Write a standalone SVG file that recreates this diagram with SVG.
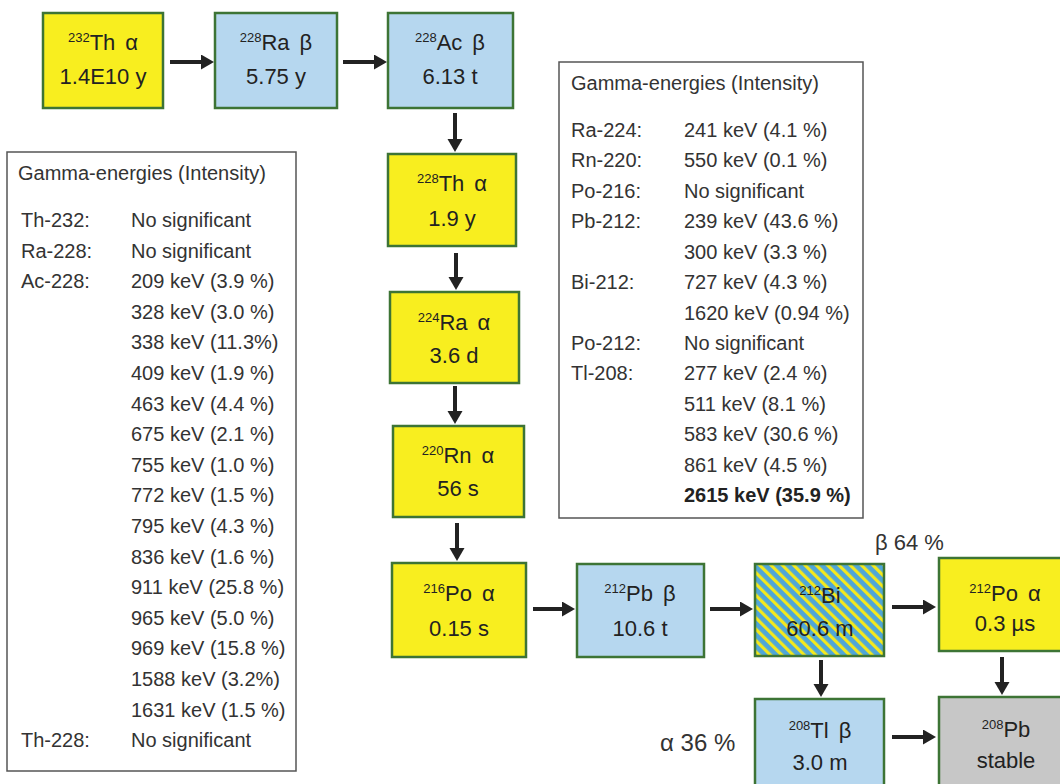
<svg xmlns="http://www.w3.org/2000/svg" width="1060" height="784" viewBox="0 0 1060 784">
<style>
.box{stroke:#3d7435;stroke-width:2.5}
.y{fill:#f8ee1f}
.b{fill:#b6d7ef}
.g{fill:#c7c7c7}
.nt{font-family:"Liberation Sans",Arial,sans-serif;font-size:22px;fill:#222;text-anchor:middle}
.sup{font-size:13px}
.tb{fill:#fff;stroke:#555;stroke-width:1.5}
.tt{font-family:"Liberation Sans",Arial,sans-serif;font-size:20px;fill:#333}
.bold{font-weight:bold;fill:#222}
.lbl{font-family:"Liberation Sans",Arial,sans-serif;fill:#333}
.arr{stroke:#222;stroke-width:4;fill:none;marker-end:url(#ah)}
</style>
<defs>
<marker id="ah" markerUnits="userSpaceOnUse" markerWidth="14" markerHeight="16" refX="4" refY="7.5" orient="auto">
<path d="M0,0 L13,7.5 L0,15 z" fill="#222"/>
</marker>
<pattern id="hatch" patternUnits="userSpaceOnUse" width="8" height="8" patternTransform="rotate(-45)">
<rect width="8" height="8" fill="#4fa6d8"/>
<rect width="3.2" height="8" fill="#f3e81e"/>
</pattern>
</defs>

<g id="table-left">
<rect class="tb" x="7" y="152" width="289" height="619"/>
<text class="tt" x="18" y="180">Gamma-energies (Intensity)</text>
<text class="tt" x="21" y="227">Th-232:</text><text class="tt" x="131" y="227">No significant</text>
<text class="tt" x="21" y="258">Ra-228:</text><text class="tt" x="131" y="258">No significant</text>
<text class="tt" x="21" y="288">Ac-228:</text><text class="tt" x="131" y="288">209 keV (3.9 %)</text>
<text class="tt" x="131" y="319">328 keV (3.0 %)</text>
<text class="tt" x="131" y="349">338 keV (11.3%)</text>
<text class="tt" x="131" y="380">409 keV (1.9 %)</text>
<text class="tt" x="131" y="411">463 keV (4.4 %)</text>
<text class="tt" x="131" y="441">675 keV (2.1 %)</text>
<text class="tt" x="131" y="472">755 keV (1.0 %)</text>
<text class="tt" x="131" y="502">772 keV (1.5 %)</text>
<text class="tt" x="131" y="533">795 keV (4.3 %)</text>
<text class="tt" x="131" y="564">836 keV (1.6 %)</text>
<text class="tt" x="131" y="594">911 keV (25.8 %)</text>
<text class="tt" x="131" y="625">965 keV (5.0 %)</text>
<text class="tt" x="131" y="655">969 keV (15.8 %)</text>
<text class="tt" x="131" y="686">1588 keV (3.2%)</text>
<text class="tt" x="131" y="717">1631 keV (1.5 %)</text>
<text class="tt" x="21" y="747">Th-228:</text><text class="tt" x="131" y="747">No significant</text>
</g>

<g id="table-right">
<rect class="tb" x="559" y="62" width="304" height="456"/>
<text class="tt" x="571" y="90">Gamma-energies (Intensity)</text>
<text class="tt" x="571" y="137">Ra-224:</text><text class="tt" x="684" y="137">241 keV (4.1 %)</text>
<text class="tt" x="571" y="167">Rn-220:</text><text class="tt" x="684" y="167">550 keV (0.1 %)</text>
<text class="tt" x="571" y="198">Po-216:</text><text class="tt" x="684" y="198">No significant</text>
<text class="tt" x="571" y="228">Pb-212:</text><text class="tt" x="684" y="228">239 keV (43.6 %)</text>
<text class="tt" x="684" y="259">300 keV (3.3 %)</text>
<text class="tt" x="571" y="289">Bi-212:</text><text class="tt" x="684" y="289">727 keV (4.3 %)</text>
<text class="tt" x="684" y="320">1620 keV (0.94 %)</text>
<text class="tt" x="571" y="350">Po-212:</text><text class="tt" x="684" y="350">No significant</text>
<text class="tt" x="571" y="380">Tl-208:</text><text class="tt" x="684" y="380">277 keV (2.4 %)</text>
<text class="tt" x="684" y="411">511 keV (8.1 %)</text>
<text class="tt" x="684" y="441">583 keV (30.6 %)</text>
<text class="tt" x="684" y="472">861 keV (4.5 %)</text>
<text class="tt bold" x="684" y="502">2615 keV (35.9 %)</text>
</g>

<g id="connectors">
<line class="arr" x1="170" y1="62" x2="205" y2="62"/>
<line class="arr" x1="343" y1="62" x2="378" y2="62"/>
<line class="arr" x1="455" y1="113" x2="455" y2="143"/>
<line class="arr" x1="456" y1="253" x2="456" y2="281"/>
<line class="arr" x1="455" y1="386" x2="455" y2="415"/>
<line class="arr" x1="457" y1="523" x2="457" y2="552"/>
<line class="arr" x1="533" y1="609" x2="566" y2="609"/>
<line class="arr" x1="710" y1="609" x2="744" y2="609"/>
<line class="arr" x1="892" y1="607" x2="927" y2="607"/>
<line class="arr" x1="821" y1="660" x2="821" y2="688"/>
<line class="arr" x1="1002" y1="657" x2="1002" y2="686"/>
<line class="arr" x1="892" y1="737" x2="927" y2="737"/>
</g>

<g id="n-th232">
<rect class="box y" x="43" y="13" width="120" height="95"/>
<text class="nt" x="103" y="50"><tspan class="sup" dy="-8">232</tspan><tspan dy="8">Th</tspan><tspan dx="10">α</tspan></text>
<text class="nt" x="103" y="84">1.4E10 y</text>
</g>
<g id="n-ra228">
<rect class="box b" x="215" y="13" width="122" height="95"/>
<text class="nt" x="276" y="50"><tspan class="sup" dy="-8">228</tspan><tspan dy="8">Ra</tspan><tspan dx="10">β</tspan></text>
<text class="nt" x="276" y="84">5.75 y</text>
</g>
<g id="n-ac228">
<rect class="box b" x="388" y="13" width="125" height="95"/>
<text class="nt" x="450" y="50"><tspan class="sup" dy="-8">228</tspan><tspan dy="8">Ac</tspan><tspan dx="10">β</tspan></text>
<text class="nt" x="450" y="84">6.13 t</text>
</g>
<g id="n-th228">
<rect class="box y" x="388" y="154" width="128" height="92"/>
<text class="nt" x="452" y="191"><tspan class="sup" dy="-8">228</tspan><tspan dy="8">Th</tspan><tspan dx="10">α</tspan></text>
<text class="nt" x="452" y="226">1.9 y</text>
</g>
<g id="n-ra224">
<rect class="box y" x="390" y="292" width="129" height="91"/>
<text class="nt" x="454" y="330"><tspan class="sup" dy="-8">224</tspan><tspan dy="8">Ra</tspan><tspan dx="10">α</tspan></text>
<text class="nt" x="454" y="363">3.6 d</text>
</g>
<g id="n-rn220">
<rect class="box y" x="393" y="426" width="131" height="91"/>
<text class="nt" x="458" y="463"><tspan class="sup" dy="-8">220</tspan><tspan dy="8">Rn</tspan><tspan dx="10">α</tspan></text>
<text class="nt" x="458" y="496">56 s</text>
</g>
<g id="n-po216">
<rect class="box y" x="392" y="563" width="134" height="94"/>
<text class="nt" x="459" y="601"><tspan class="sup" dy="-8">216</tspan><tspan dy="8">Po</tspan><tspan dx="10">α</tspan></text>
<text class="nt" x="459" y="636">0.15 s</text>
</g>
<g id="n-pb212">
<rect class="box b" x="577" y="564" width="127" height="93"/>
<text class="nt" x="640" y="601"><tspan class="sup" dy="-8">212</tspan><tspan dy="8">Pb</tspan><tspan dx="10">β</tspan></text>
<text class="nt" x="640" y="636">10.6 t</text>
</g>
<g id="n-bi212">
<rect class="box" x="755" y="564" width="129" height="92" fill="url(#hatch)"/>
<text class="nt" x="820" y="603"><tspan class="sup" dy="-8">212</tspan><tspan dy="8">Bi</tspan></text>
<text class="nt" x="820" y="636">60.6 m</text>
</g>
<g id="n-po212">
<rect class="box y" x="939" y="558" width="132" height="93"/>
<text class="nt" x="1005" y="601"><tspan class="sup" dy="-8">212</tspan><tspan dy="8">Po</tspan><tspan dx="10">α</tspan></text>
<text class="nt" x="1005" y="631">0.3 µs</text>
</g>
<g id="n-tl208">
<rect class="box b" x="755" y="699" width="129" height="95"/>
<text class="nt" x="820" y="738"><tspan class="sup" dy="-8">208</tspan><tspan dy="8">Tl</tspan><tspan dx="10">β</tspan></text>
<text class="nt" x="820" y="770">3.0 m</text>
</g>
<g id="n-pb208">
<rect class="box g" x="939" y="697" width="132" height="95"/>
<text class="nt" x="1006" y="737"><tspan class="sup" dy="-8">208</tspan><tspan dy="8">Pb</tspan></text>
<text class="nt" x="1006" y="768">stable</text>
</g>

<g id="branch-labels">
<text class="lbl" x="875" y="550" font-size="22">β 64 %</text>
<text class="lbl" x="660" y="751" font-size="24">α 36 %</text>
</g>
</svg>
